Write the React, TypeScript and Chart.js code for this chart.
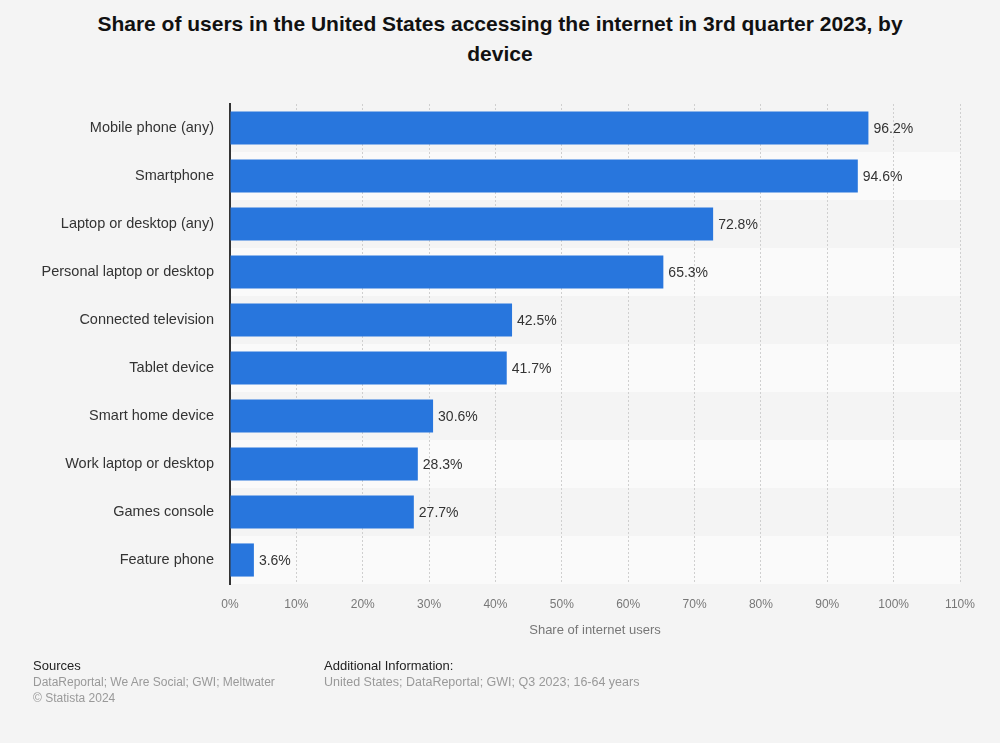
import React, { useEffect, useRef } from "react";
import { Chart, registerables } from "chart.js";

Chart.register(...registerables);

const categories = [
  "Mobile phone (any)",
  "Smartphone",
  "Laptop or desktop (any)",
  "Personal laptop or desktop",
  "Connected television",
  "Tablet device",
  "Smart home device",
  "Work laptop or desktop",
  "Games console",
  "Feature phone",
];

const shares = [96.2, 94.6, 72.8, 65.3, 42.5, 41.7, 30.6, 28.3, 27.7, 3.6];

const xTicks = [0, 10, 20, 30, 40, 50, 60, 70, 80, 90, 100, 110];

const FONT = '"Liberation Sans", Arial, Helvetica, sans-serif';

// Alternating row bands behind the bars
const rowBands = {
  id: "rowBands",
  beforeDraw(chart: any) {
    const { ctx, chartArea, scales } = chart;
    const y = scales.y;
    const n = categories.length;
    const h = (chartArea.bottom - chartArea.top) / n;
    ctx.save();
    for (let i = 0; i < n; i++) {
      ctx.fillStyle = i % 2 === 0 ? "#f4f4f4" : "#fafafa";
      const top = y.getPixelForValue(i) - h / 2;
      ctx.fillRect(chartArea.left, top, chartArea.right - chartArea.left, h);
    }
    ctx.restore();
  },
};

// Value labels at the end of each bar
const valueLabels = {
  id: "valueLabels",
  afterDatasetsDraw(chart: any) {
    const { ctx } = chart;
    const meta = chart.getDatasetMeta(0);
    ctx.save();
    ctx.font = `14px ${FONT}`;
    ctx.fillStyle = "#333333";
    ctx.textAlign = "left";
    ctx.textBaseline = "middle";
    meta.data.forEach((bar: any, i: number) => {
      ctx.fillText(`${shares[i].toFixed(1)}%`, bar.x + 5, bar.y + 1);
    });
    ctx.restore();
  },
};

export default function App() {
  const canvasRef = useRef<HTMLCanvasElement>(null);

  useEffect(() => {
    document.body.style.margin = "0";
    document.body.style.background = "#f4f4f4";
    const chart = new Chart(canvasRef.current!, {
      type: "bar",
      data: {
        labels: categories,
        datasets: [
          {
            data: shares,
            backgroundColor: "#2876dd",
            borderWidth: 0,
            barPercentage: 0.69,
            categoryPercentage: 1,
          },
        ],
      },
      options: {
        indexAxis: "y",
        responsive: false,
        animation: false,
        layout: { padding: { top: 104, right: 40, bottom: 105, left: 0 } },
        plugins: {
          legend: { display: false },
          tooltip: { enabled: false },
        },
        scales: {
          x: {
            min: 0,
            max: 110,
            afterBuildTicks(scale: any) {
              scale.ticks = xTicks.map((v) => ({ value: v }));
            },
            afterFit(scale: any) {
              scale.height = 54;
            },
            ticks: {
              callback: (v: any) => `${v}%`,
              color: "#777777",
              font: { family: FONT, size: 12 },
              padding: 13,
              maxRotation: 0,
              autoSkip: false,
            },
            grid: {
              color: "#cfcfcf",
              lineWidth: 1,
              drawTicks: false,
            },
            border: { display: false, dash: [2, 2] },
            title: {
              display: true,
              text: "Share of internet users",
              color: "#777777",
              font: { family: FONT, size: 13 },
              padding: { top: 0, bottom: 0 },
            },
          },
          y: {
            afterFit(scale: any) {
              scale.width = 230;
            },
            ticks: {
              color: "#333333",
              font: { family: FONT, size: 14.5 },
              padding: 16,
            },
            grid: { display: false, drawTicks: false },
            border: { display: true, color: "#333333", width: 2 },
          },
        },
      },
      plugins: [rowBands, valueLabels],
    });
    return () => chart.destroy();
  }, []);

  return (
    <div
      style={{
        position: "relative",
        width: 1000,
        height: 743,
        background: "#f4f4f4",
        overflow: "hidden",
      }}
    >
      <div
        style={{
          position: "absolute",
          left: 40,
          right: 40,
          top: 9,
          textAlign: "center",
          font: `bold 21px/30px ${FONT}`,
          color: "#111111",
        }}
      >
        Share of users in the United States accessing the internet in 3rd quarter 2023, by
        <br />
        device
      </div>
      <canvas
        ref={canvasRef}
        width={1000}
        height={743}
        style={{ position: "absolute", left: 0, top: 0 }}
      />
      <div
        style={{
          position: "absolute",
          left: 33,
          top: 657,
          font: `13px/17px ${FONT}`,
          color: "#222222",
        }}
      >
        Sources
        <div style={{ font: `12px/16px ${FONT}`, color: "#999999" }}>
          DataReportal; We Are Social; GWI; Meltwater
          <br />© Statista 2024
        </div>
      </div>
      <div
        style={{
          position: "absolute",
          left: 324,
          top: 657,
          font: `13px/17px ${FONT}`,
          color: "#222222",
        }}
      >
        Additional Information:
        <div style={{ font: `12.5px/16px ${FONT}`, color: "#999999" }}>
          United States; DataReportal; GWI; Q3 2023; 16-64 years
        </div>
      </div>
    </div>
  );
}
